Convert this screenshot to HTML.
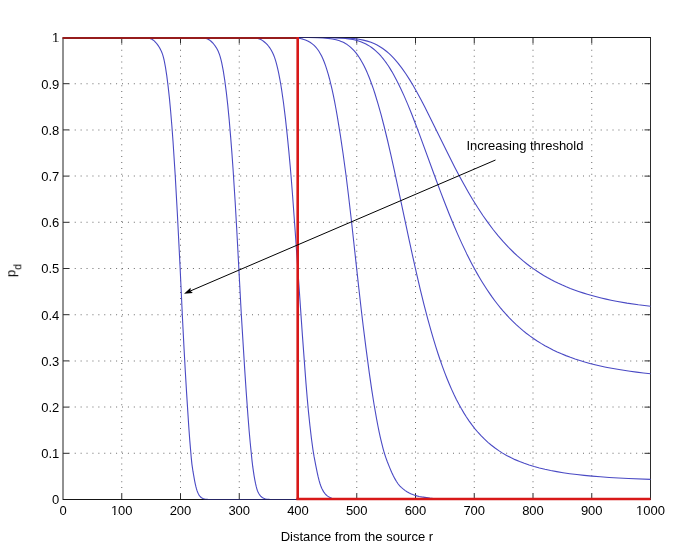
<!DOCTYPE html>
<html><head><meta charset="utf-8"><style>html,body{margin:0;padding:0;background:#fff;overflow:hidden;}svg{display:block;}</style></head>
<body><svg width="685" height="559" viewBox="0 0 685 559">
<defs><clipPath id="clip"><rect x="63.0" y="37.5" width="588.0" height="462.5"/></clipPath></defs>
<rect width="685" height="559" fill="#fff"/>
<path d="M121.25 43.81h1v1h-1zM121.25 49.72h1v1h-1zM121.25 55.63h1v1h-1zM121.25 61.54h1v1h-1zM121.25 67.45h1v1h-1zM121.25 73.36h1v1h-1zM121.25 79.27h1v1h-1zM121.25 85.18h1v1h-1zM121.25 91.09h1v1h-1zM121.25 97.00h1v1h-1zM121.25 102.91h1v1h-1zM121.25 108.82h1v1h-1zM121.25 114.73h1v1h-1zM121.25 120.64h1v1h-1zM121.25 126.55h1v1h-1zM121.25 132.46h1v1h-1zM121.25 138.37h1v1h-1zM121.25 144.28h1v1h-1zM121.25 150.19h1v1h-1zM121.25 156.10h1v1h-1zM121.25 162.01h1v1h-1zM121.25 167.92h1v1h-1zM121.25 173.83h1v1h-1zM121.25 179.74h1v1h-1zM121.25 185.65h1v1h-1zM121.25 191.56h1v1h-1zM121.25 197.47h1v1h-1zM121.25 203.38h1v1h-1zM121.25 209.29h1v1h-1zM121.25 215.20h1v1h-1zM121.25 221.11h1v1h-1zM121.25 227.02h1v1h-1zM121.25 232.93h1v1h-1zM121.25 238.84h1v1h-1zM121.25 244.75h1v1h-1zM121.25 250.66h1v1h-1zM121.25 256.57h1v1h-1zM121.25 262.48h1v1h-1zM121.25 268.39h1v1h-1zM121.25 274.30h1v1h-1zM121.25 280.21h1v1h-1zM121.25 286.12h1v1h-1zM121.25 292.03h1v1h-1zM121.25 297.94h1v1h-1zM121.25 303.85h1v1h-1zM121.25 309.76h1v1h-1zM121.25 315.67h1v1h-1zM121.25 321.58h1v1h-1zM121.25 327.49h1v1h-1zM121.25 333.40h1v1h-1zM121.25 339.31h1v1h-1zM121.25 345.22h1v1h-1zM121.25 351.13h1v1h-1zM121.25 357.04h1v1h-1zM121.25 362.95h1v1h-1zM121.25 368.86h1v1h-1zM121.25 374.77h1v1h-1zM121.25 380.68h1v1h-1zM121.25 386.59h1v1h-1zM121.25 392.50h1v1h-1zM121.25 398.41h1v1h-1zM121.25 404.32h1v1h-1zM121.25 410.23h1v1h-1zM121.25 416.14h1v1h-1zM121.25 422.05h1v1h-1zM121.25 427.96h1v1h-1zM121.25 433.87h1v1h-1zM121.25 439.78h1v1h-1zM121.25 445.69h1v1h-1zM121.25 451.60h1v1h-1zM121.25 457.51h1v1h-1zM121.25 463.42h1v1h-1zM121.25 469.33h1v1h-1zM121.25 475.24h1v1h-1zM121.25 481.15h1v1h-1zM121.25 487.06h1v1h-1zM121.25 492.97h1v1h-1zM180.00 43.81h1v1h-1zM180.00 49.72h1v1h-1zM180.00 55.63h1v1h-1zM180.00 61.54h1v1h-1zM180.00 67.45h1v1h-1zM180.00 73.36h1v1h-1zM180.00 79.27h1v1h-1zM180.00 85.18h1v1h-1zM180.00 91.09h1v1h-1zM180.00 97.00h1v1h-1zM180.00 102.91h1v1h-1zM180.00 108.82h1v1h-1zM180.00 114.73h1v1h-1zM180.00 120.64h1v1h-1zM180.00 126.55h1v1h-1zM180.00 132.46h1v1h-1zM180.00 138.37h1v1h-1zM180.00 144.28h1v1h-1zM180.00 150.19h1v1h-1zM180.00 156.10h1v1h-1zM180.00 162.01h1v1h-1zM180.00 167.92h1v1h-1zM180.00 173.83h1v1h-1zM180.00 179.74h1v1h-1zM180.00 185.65h1v1h-1zM180.00 191.56h1v1h-1zM180.00 197.47h1v1h-1zM180.00 203.38h1v1h-1zM180.00 209.29h1v1h-1zM180.00 215.20h1v1h-1zM180.00 221.11h1v1h-1zM180.00 227.02h1v1h-1zM180.00 232.93h1v1h-1zM180.00 238.84h1v1h-1zM180.00 244.75h1v1h-1zM180.00 250.66h1v1h-1zM180.00 256.57h1v1h-1zM180.00 262.48h1v1h-1zM180.00 268.39h1v1h-1zM180.00 274.30h1v1h-1zM180.00 280.21h1v1h-1zM180.00 286.12h1v1h-1zM180.00 292.03h1v1h-1zM180.00 297.94h1v1h-1zM180.00 303.85h1v1h-1zM180.00 309.76h1v1h-1zM180.00 315.67h1v1h-1zM180.00 321.58h1v1h-1zM180.00 327.49h1v1h-1zM180.00 333.40h1v1h-1zM180.00 339.31h1v1h-1zM180.00 345.22h1v1h-1zM180.00 351.13h1v1h-1zM180.00 357.04h1v1h-1zM180.00 362.95h1v1h-1zM180.00 368.86h1v1h-1zM180.00 374.77h1v1h-1zM180.00 380.68h1v1h-1zM180.00 386.59h1v1h-1zM180.00 392.50h1v1h-1zM180.00 398.41h1v1h-1zM180.00 404.32h1v1h-1zM180.00 410.23h1v1h-1zM180.00 416.14h1v1h-1zM180.00 422.05h1v1h-1zM180.00 427.96h1v1h-1zM180.00 433.87h1v1h-1zM180.00 439.78h1v1h-1zM180.00 445.69h1v1h-1zM180.00 451.60h1v1h-1zM180.00 457.51h1v1h-1zM180.00 463.42h1v1h-1zM180.00 469.33h1v1h-1zM180.00 475.24h1v1h-1zM180.00 481.15h1v1h-1zM180.00 487.06h1v1h-1zM180.00 492.97h1v1h-1zM238.75 43.81h1v1h-1zM238.75 49.72h1v1h-1zM238.75 55.63h1v1h-1zM238.75 61.54h1v1h-1zM238.75 67.45h1v1h-1zM238.75 73.36h1v1h-1zM238.75 79.27h1v1h-1zM238.75 85.18h1v1h-1zM238.75 91.09h1v1h-1zM238.75 97.00h1v1h-1zM238.75 102.91h1v1h-1zM238.75 108.82h1v1h-1zM238.75 114.73h1v1h-1zM238.75 120.64h1v1h-1zM238.75 126.55h1v1h-1zM238.75 132.46h1v1h-1zM238.75 138.37h1v1h-1zM238.75 144.28h1v1h-1zM238.75 150.19h1v1h-1zM238.75 156.10h1v1h-1zM238.75 162.01h1v1h-1zM238.75 167.92h1v1h-1zM238.75 173.83h1v1h-1zM238.75 179.74h1v1h-1zM238.75 185.65h1v1h-1zM238.75 191.56h1v1h-1zM238.75 197.47h1v1h-1zM238.75 203.38h1v1h-1zM238.75 209.29h1v1h-1zM238.75 215.20h1v1h-1zM238.75 221.11h1v1h-1zM238.75 227.02h1v1h-1zM238.75 232.93h1v1h-1zM238.75 238.84h1v1h-1zM238.75 244.75h1v1h-1zM238.75 250.66h1v1h-1zM238.75 256.57h1v1h-1zM238.75 262.48h1v1h-1zM238.75 268.39h1v1h-1zM238.75 274.30h1v1h-1zM238.75 280.21h1v1h-1zM238.75 286.12h1v1h-1zM238.75 292.03h1v1h-1zM238.75 297.94h1v1h-1zM238.75 303.85h1v1h-1zM238.75 309.76h1v1h-1zM238.75 315.67h1v1h-1zM238.75 321.58h1v1h-1zM238.75 327.49h1v1h-1zM238.75 333.40h1v1h-1zM238.75 339.31h1v1h-1zM238.75 345.22h1v1h-1zM238.75 351.13h1v1h-1zM238.75 357.04h1v1h-1zM238.75 362.95h1v1h-1zM238.75 368.86h1v1h-1zM238.75 374.77h1v1h-1zM238.75 380.68h1v1h-1zM238.75 386.59h1v1h-1zM238.75 392.50h1v1h-1zM238.75 398.41h1v1h-1zM238.75 404.32h1v1h-1zM238.75 410.23h1v1h-1zM238.75 416.14h1v1h-1zM238.75 422.05h1v1h-1zM238.75 427.96h1v1h-1zM238.75 433.87h1v1h-1zM238.75 439.78h1v1h-1zM238.75 445.69h1v1h-1zM238.75 451.60h1v1h-1zM238.75 457.51h1v1h-1zM238.75 463.42h1v1h-1zM238.75 469.33h1v1h-1zM238.75 475.24h1v1h-1zM238.75 481.15h1v1h-1zM238.75 487.06h1v1h-1zM238.75 492.97h1v1h-1zM297.50 43.81h1v1h-1zM297.50 49.72h1v1h-1zM297.50 55.63h1v1h-1zM297.50 61.54h1v1h-1zM297.50 67.45h1v1h-1zM297.50 73.36h1v1h-1zM297.50 79.27h1v1h-1zM297.50 85.18h1v1h-1zM297.50 91.09h1v1h-1zM297.50 97.00h1v1h-1zM297.50 102.91h1v1h-1zM297.50 108.82h1v1h-1zM297.50 114.73h1v1h-1zM297.50 120.64h1v1h-1zM297.50 126.55h1v1h-1zM297.50 132.46h1v1h-1zM297.50 138.37h1v1h-1zM297.50 144.28h1v1h-1zM297.50 150.19h1v1h-1zM297.50 156.10h1v1h-1zM297.50 162.01h1v1h-1zM297.50 167.92h1v1h-1zM297.50 173.83h1v1h-1zM297.50 179.74h1v1h-1zM297.50 185.65h1v1h-1zM297.50 191.56h1v1h-1zM297.50 197.47h1v1h-1zM297.50 203.38h1v1h-1zM297.50 209.29h1v1h-1zM297.50 215.20h1v1h-1zM297.50 221.11h1v1h-1zM297.50 227.02h1v1h-1zM297.50 232.93h1v1h-1zM297.50 238.84h1v1h-1zM297.50 244.75h1v1h-1zM297.50 250.66h1v1h-1zM297.50 256.57h1v1h-1zM297.50 262.48h1v1h-1zM297.50 268.39h1v1h-1zM297.50 274.30h1v1h-1zM297.50 280.21h1v1h-1zM297.50 286.12h1v1h-1zM297.50 292.03h1v1h-1zM297.50 297.94h1v1h-1zM297.50 303.85h1v1h-1zM297.50 309.76h1v1h-1zM297.50 315.67h1v1h-1zM297.50 321.58h1v1h-1zM297.50 327.49h1v1h-1zM297.50 333.40h1v1h-1zM297.50 339.31h1v1h-1zM297.50 345.22h1v1h-1zM297.50 351.13h1v1h-1zM297.50 357.04h1v1h-1zM297.50 362.95h1v1h-1zM297.50 368.86h1v1h-1zM297.50 374.77h1v1h-1zM297.50 380.68h1v1h-1zM297.50 386.59h1v1h-1zM297.50 392.50h1v1h-1zM297.50 398.41h1v1h-1zM297.50 404.32h1v1h-1zM297.50 410.23h1v1h-1zM297.50 416.14h1v1h-1zM297.50 422.05h1v1h-1zM297.50 427.96h1v1h-1zM297.50 433.87h1v1h-1zM297.50 439.78h1v1h-1zM297.50 445.69h1v1h-1zM297.50 451.60h1v1h-1zM297.50 457.51h1v1h-1zM297.50 463.42h1v1h-1zM297.50 469.33h1v1h-1zM297.50 475.24h1v1h-1zM297.50 481.15h1v1h-1zM297.50 487.06h1v1h-1zM297.50 492.97h1v1h-1zM356.25 43.81h1v1h-1zM356.25 49.72h1v1h-1zM356.25 55.63h1v1h-1zM356.25 61.54h1v1h-1zM356.25 67.45h1v1h-1zM356.25 73.36h1v1h-1zM356.25 79.27h1v1h-1zM356.25 85.18h1v1h-1zM356.25 91.09h1v1h-1zM356.25 97.00h1v1h-1zM356.25 102.91h1v1h-1zM356.25 108.82h1v1h-1zM356.25 114.73h1v1h-1zM356.25 120.64h1v1h-1zM356.25 126.55h1v1h-1zM356.25 132.46h1v1h-1zM356.25 138.37h1v1h-1zM356.25 144.28h1v1h-1zM356.25 150.19h1v1h-1zM356.25 156.10h1v1h-1zM356.25 162.01h1v1h-1zM356.25 167.92h1v1h-1zM356.25 173.83h1v1h-1zM356.25 179.74h1v1h-1zM356.25 185.65h1v1h-1zM356.25 191.56h1v1h-1zM356.25 197.47h1v1h-1zM356.25 203.38h1v1h-1zM356.25 209.29h1v1h-1zM356.25 215.20h1v1h-1zM356.25 221.11h1v1h-1zM356.25 227.02h1v1h-1zM356.25 232.93h1v1h-1zM356.25 238.84h1v1h-1zM356.25 244.75h1v1h-1zM356.25 250.66h1v1h-1zM356.25 256.57h1v1h-1zM356.25 262.48h1v1h-1zM356.25 268.39h1v1h-1zM356.25 274.30h1v1h-1zM356.25 280.21h1v1h-1zM356.25 286.12h1v1h-1zM356.25 292.03h1v1h-1zM356.25 297.94h1v1h-1zM356.25 303.85h1v1h-1zM356.25 309.76h1v1h-1zM356.25 315.67h1v1h-1zM356.25 321.58h1v1h-1zM356.25 327.49h1v1h-1zM356.25 333.40h1v1h-1zM356.25 339.31h1v1h-1zM356.25 345.22h1v1h-1zM356.25 351.13h1v1h-1zM356.25 357.04h1v1h-1zM356.25 362.95h1v1h-1zM356.25 368.86h1v1h-1zM356.25 374.77h1v1h-1zM356.25 380.68h1v1h-1zM356.25 386.59h1v1h-1zM356.25 392.50h1v1h-1zM356.25 398.41h1v1h-1zM356.25 404.32h1v1h-1zM356.25 410.23h1v1h-1zM356.25 416.14h1v1h-1zM356.25 422.05h1v1h-1zM356.25 427.96h1v1h-1zM356.25 433.87h1v1h-1zM356.25 439.78h1v1h-1zM356.25 445.69h1v1h-1zM356.25 451.60h1v1h-1zM356.25 457.51h1v1h-1zM356.25 463.42h1v1h-1zM356.25 469.33h1v1h-1zM356.25 475.24h1v1h-1zM356.25 481.15h1v1h-1zM356.25 487.06h1v1h-1zM356.25 492.97h1v1h-1zM415.00 43.81h1v1h-1zM415.00 49.72h1v1h-1zM415.00 55.63h1v1h-1zM415.00 61.54h1v1h-1zM415.00 67.45h1v1h-1zM415.00 73.36h1v1h-1zM415.00 79.27h1v1h-1zM415.00 85.18h1v1h-1zM415.00 91.09h1v1h-1zM415.00 97.00h1v1h-1zM415.00 102.91h1v1h-1zM415.00 108.82h1v1h-1zM415.00 114.73h1v1h-1zM415.00 120.64h1v1h-1zM415.00 126.55h1v1h-1zM415.00 132.46h1v1h-1zM415.00 138.37h1v1h-1zM415.00 144.28h1v1h-1zM415.00 150.19h1v1h-1zM415.00 156.10h1v1h-1zM415.00 162.01h1v1h-1zM415.00 167.92h1v1h-1zM415.00 173.83h1v1h-1zM415.00 179.74h1v1h-1zM415.00 185.65h1v1h-1zM415.00 191.56h1v1h-1zM415.00 197.47h1v1h-1zM415.00 203.38h1v1h-1zM415.00 209.29h1v1h-1zM415.00 215.20h1v1h-1zM415.00 221.11h1v1h-1zM415.00 227.02h1v1h-1zM415.00 232.93h1v1h-1zM415.00 238.84h1v1h-1zM415.00 244.75h1v1h-1zM415.00 250.66h1v1h-1zM415.00 256.57h1v1h-1zM415.00 262.48h1v1h-1zM415.00 268.39h1v1h-1zM415.00 274.30h1v1h-1zM415.00 280.21h1v1h-1zM415.00 286.12h1v1h-1zM415.00 292.03h1v1h-1zM415.00 297.94h1v1h-1zM415.00 303.85h1v1h-1zM415.00 309.76h1v1h-1zM415.00 315.67h1v1h-1zM415.00 321.58h1v1h-1zM415.00 327.49h1v1h-1zM415.00 333.40h1v1h-1zM415.00 339.31h1v1h-1zM415.00 345.22h1v1h-1zM415.00 351.13h1v1h-1zM415.00 357.04h1v1h-1zM415.00 362.95h1v1h-1zM415.00 368.86h1v1h-1zM415.00 374.77h1v1h-1zM415.00 380.68h1v1h-1zM415.00 386.59h1v1h-1zM415.00 392.50h1v1h-1zM415.00 398.41h1v1h-1zM415.00 404.32h1v1h-1zM415.00 410.23h1v1h-1zM415.00 416.14h1v1h-1zM415.00 422.05h1v1h-1zM415.00 427.96h1v1h-1zM415.00 433.87h1v1h-1zM415.00 439.78h1v1h-1zM415.00 445.69h1v1h-1zM415.00 451.60h1v1h-1zM415.00 457.51h1v1h-1zM415.00 463.42h1v1h-1zM415.00 469.33h1v1h-1zM415.00 475.24h1v1h-1zM415.00 481.15h1v1h-1zM415.00 487.06h1v1h-1zM415.00 492.97h1v1h-1zM473.75 43.81h1v1h-1zM473.75 49.72h1v1h-1zM473.75 55.63h1v1h-1zM473.75 61.54h1v1h-1zM473.75 67.45h1v1h-1zM473.75 73.36h1v1h-1zM473.75 79.27h1v1h-1zM473.75 85.18h1v1h-1zM473.75 91.09h1v1h-1zM473.75 97.00h1v1h-1zM473.75 102.91h1v1h-1zM473.75 108.82h1v1h-1zM473.75 114.73h1v1h-1zM473.75 120.64h1v1h-1zM473.75 126.55h1v1h-1zM473.75 132.46h1v1h-1zM473.75 138.37h1v1h-1zM473.75 144.28h1v1h-1zM473.75 150.19h1v1h-1zM473.75 156.10h1v1h-1zM473.75 162.01h1v1h-1zM473.75 167.92h1v1h-1zM473.75 173.83h1v1h-1zM473.75 179.74h1v1h-1zM473.75 185.65h1v1h-1zM473.75 191.56h1v1h-1zM473.75 197.47h1v1h-1zM473.75 203.38h1v1h-1zM473.75 209.29h1v1h-1zM473.75 215.20h1v1h-1zM473.75 221.11h1v1h-1zM473.75 227.02h1v1h-1zM473.75 232.93h1v1h-1zM473.75 238.84h1v1h-1zM473.75 244.75h1v1h-1zM473.75 250.66h1v1h-1zM473.75 256.57h1v1h-1zM473.75 262.48h1v1h-1zM473.75 268.39h1v1h-1zM473.75 274.30h1v1h-1zM473.75 280.21h1v1h-1zM473.75 286.12h1v1h-1zM473.75 292.03h1v1h-1zM473.75 297.94h1v1h-1zM473.75 303.85h1v1h-1zM473.75 309.76h1v1h-1zM473.75 315.67h1v1h-1zM473.75 321.58h1v1h-1zM473.75 327.49h1v1h-1zM473.75 333.40h1v1h-1zM473.75 339.31h1v1h-1zM473.75 345.22h1v1h-1zM473.75 351.13h1v1h-1zM473.75 357.04h1v1h-1zM473.75 362.95h1v1h-1zM473.75 368.86h1v1h-1zM473.75 374.77h1v1h-1zM473.75 380.68h1v1h-1zM473.75 386.59h1v1h-1zM473.75 392.50h1v1h-1zM473.75 398.41h1v1h-1zM473.75 404.32h1v1h-1zM473.75 410.23h1v1h-1zM473.75 416.14h1v1h-1zM473.75 422.05h1v1h-1zM473.75 427.96h1v1h-1zM473.75 433.87h1v1h-1zM473.75 439.78h1v1h-1zM473.75 445.69h1v1h-1zM473.75 451.60h1v1h-1zM473.75 457.51h1v1h-1zM473.75 463.42h1v1h-1zM473.75 469.33h1v1h-1zM473.75 475.24h1v1h-1zM473.75 481.15h1v1h-1zM473.75 487.06h1v1h-1zM473.75 492.97h1v1h-1zM532.50 43.81h1v1h-1zM532.50 49.72h1v1h-1zM532.50 55.63h1v1h-1zM532.50 61.54h1v1h-1zM532.50 67.45h1v1h-1zM532.50 73.36h1v1h-1zM532.50 79.27h1v1h-1zM532.50 85.18h1v1h-1zM532.50 91.09h1v1h-1zM532.50 97.00h1v1h-1zM532.50 102.91h1v1h-1zM532.50 108.82h1v1h-1zM532.50 114.73h1v1h-1zM532.50 120.64h1v1h-1zM532.50 126.55h1v1h-1zM532.50 132.46h1v1h-1zM532.50 138.37h1v1h-1zM532.50 144.28h1v1h-1zM532.50 150.19h1v1h-1zM532.50 156.10h1v1h-1zM532.50 162.01h1v1h-1zM532.50 167.92h1v1h-1zM532.50 173.83h1v1h-1zM532.50 179.74h1v1h-1zM532.50 185.65h1v1h-1zM532.50 191.56h1v1h-1zM532.50 197.47h1v1h-1zM532.50 203.38h1v1h-1zM532.50 209.29h1v1h-1zM532.50 215.20h1v1h-1zM532.50 221.11h1v1h-1zM532.50 227.02h1v1h-1zM532.50 232.93h1v1h-1zM532.50 238.84h1v1h-1zM532.50 244.75h1v1h-1zM532.50 250.66h1v1h-1zM532.50 256.57h1v1h-1zM532.50 262.48h1v1h-1zM532.50 268.39h1v1h-1zM532.50 274.30h1v1h-1zM532.50 280.21h1v1h-1zM532.50 286.12h1v1h-1zM532.50 292.03h1v1h-1zM532.50 297.94h1v1h-1zM532.50 303.85h1v1h-1zM532.50 309.76h1v1h-1zM532.50 315.67h1v1h-1zM532.50 321.58h1v1h-1zM532.50 327.49h1v1h-1zM532.50 333.40h1v1h-1zM532.50 339.31h1v1h-1zM532.50 345.22h1v1h-1zM532.50 351.13h1v1h-1zM532.50 357.04h1v1h-1zM532.50 362.95h1v1h-1zM532.50 368.86h1v1h-1zM532.50 374.77h1v1h-1zM532.50 380.68h1v1h-1zM532.50 386.59h1v1h-1zM532.50 392.50h1v1h-1zM532.50 398.41h1v1h-1zM532.50 404.32h1v1h-1zM532.50 410.23h1v1h-1zM532.50 416.14h1v1h-1zM532.50 422.05h1v1h-1zM532.50 427.96h1v1h-1zM532.50 433.87h1v1h-1zM532.50 439.78h1v1h-1zM532.50 445.69h1v1h-1zM532.50 451.60h1v1h-1zM532.50 457.51h1v1h-1zM532.50 463.42h1v1h-1zM532.50 469.33h1v1h-1zM532.50 475.24h1v1h-1zM532.50 481.15h1v1h-1zM532.50 487.06h1v1h-1zM532.50 492.97h1v1h-1zM591.25 43.81h1v1h-1zM591.25 49.72h1v1h-1zM591.25 55.63h1v1h-1zM591.25 61.54h1v1h-1zM591.25 67.45h1v1h-1zM591.25 73.36h1v1h-1zM591.25 79.27h1v1h-1zM591.25 85.18h1v1h-1zM591.25 91.09h1v1h-1zM591.25 97.00h1v1h-1zM591.25 102.91h1v1h-1zM591.25 108.82h1v1h-1zM591.25 114.73h1v1h-1zM591.25 120.64h1v1h-1zM591.25 126.55h1v1h-1zM591.25 132.46h1v1h-1zM591.25 138.37h1v1h-1zM591.25 144.28h1v1h-1zM591.25 150.19h1v1h-1zM591.25 156.10h1v1h-1zM591.25 162.01h1v1h-1zM591.25 167.92h1v1h-1zM591.25 173.83h1v1h-1zM591.25 179.74h1v1h-1zM591.25 185.65h1v1h-1zM591.25 191.56h1v1h-1zM591.25 197.47h1v1h-1zM591.25 203.38h1v1h-1zM591.25 209.29h1v1h-1zM591.25 215.20h1v1h-1zM591.25 221.11h1v1h-1zM591.25 227.02h1v1h-1zM591.25 232.93h1v1h-1zM591.25 238.84h1v1h-1zM591.25 244.75h1v1h-1zM591.25 250.66h1v1h-1zM591.25 256.57h1v1h-1zM591.25 262.48h1v1h-1zM591.25 268.39h1v1h-1zM591.25 274.30h1v1h-1zM591.25 280.21h1v1h-1zM591.25 286.12h1v1h-1zM591.25 292.03h1v1h-1zM591.25 297.94h1v1h-1zM591.25 303.85h1v1h-1zM591.25 309.76h1v1h-1zM591.25 315.67h1v1h-1zM591.25 321.58h1v1h-1zM591.25 327.49h1v1h-1zM591.25 333.40h1v1h-1zM591.25 339.31h1v1h-1zM591.25 345.22h1v1h-1zM591.25 351.13h1v1h-1zM591.25 357.04h1v1h-1zM591.25 362.95h1v1h-1zM591.25 368.86h1v1h-1zM591.25 374.77h1v1h-1zM591.25 380.68h1v1h-1zM591.25 386.59h1v1h-1zM591.25 392.50h1v1h-1zM591.25 398.41h1v1h-1zM591.25 404.32h1v1h-1zM591.25 410.23h1v1h-1zM591.25 416.14h1v1h-1zM591.25 422.05h1v1h-1zM591.25 427.96h1v1h-1zM591.25 433.87h1v1h-1zM591.25 439.78h1v1h-1zM591.25 445.69h1v1h-1zM591.25 451.60h1v1h-1zM591.25 457.51h1v1h-1zM591.25 463.42h1v1h-1zM591.25 469.33h1v1h-1zM591.25 475.24h1v1h-1zM591.25 481.15h1v1h-1zM591.25 487.06h1v1h-1zM591.25 492.97h1v1h-1zM68.81 452.80h1v1h-1zM74.72 452.80h1v1h-1zM80.63 452.80h1v1h-1zM86.54 452.80h1v1h-1zM92.45 452.80h1v1h-1zM98.36 452.80h1v1h-1zM104.27 452.80h1v1h-1zM110.18 452.80h1v1h-1zM116.09 452.80h1v1h-1zM122.00 452.80h1v1h-1zM127.91 452.80h1v1h-1zM133.82 452.80h1v1h-1zM139.73 452.80h1v1h-1zM145.64 452.80h1v1h-1zM151.55 452.80h1v1h-1zM157.46 452.80h1v1h-1zM163.37 452.80h1v1h-1zM169.28 452.80h1v1h-1zM175.19 452.80h1v1h-1zM181.10 452.80h1v1h-1zM187.01 452.80h1v1h-1zM192.92 452.80h1v1h-1zM198.83 452.80h1v1h-1zM204.74 452.80h1v1h-1zM210.65 452.80h1v1h-1zM216.56 452.80h1v1h-1zM222.47 452.80h1v1h-1zM228.38 452.80h1v1h-1zM234.29 452.80h1v1h-1zM240.20 452.80h1v1h-1zM246.11 452.80h1v1h-1zM252.02 452.80h1v1h-1zM257.93 452.80h1v1h-1zM263.84 452.80h1v1h-1zM269.75 452.80h1v1h-1zM275.66 452.80h1v1h-1zM281.57 452.80h1v1h-1zM287.48 452.80h1v1h-1zM293.39 452.80h1v1h-1zM299.30 452.80h1v1h-1zM305.21 452.80h1v1h-1zM311.12 452.80h1v1h-1zM317.03 452.80h1v1h-1zM322.94 452.80h1v1h-1zM328.85 452.80h1v1h-1zM334.76 452.80h1v1h-1zM340.67 452.80h1v1h-1zM346.58 452.80h1v1h-1zM352.49 452.80h1v1h-1zM358.40 452.80h1v1h-1zM364.31 452.80h1v1h-1zM370.22 452.80h1v1h-1zM376.13 452.80h1v1h-1zM382.04 452.80h1v1h-1zM387.95 452.80h1v1h-1zM393.86 452.80h1v1h-1zM399.77 452.80h1v1h-1zM405.68 452.80h1v1h-1zM411.59 452.80h1v1h-1zM417.50 452.80h1v1h-1zM423.41 452.80h1v1h-1zM429.32 452.80h1v1h-1zM435.23 452.80h1v1h-1zM441.14 452.80h1v1h-1zM447.05 452.80h1v1h-1zM452.96 452.80h1v1h-1zM458.87 452.80h1v1h-1zM464.78 452.80h1v1h-1zM470.69 452.80h1v1h-1zM476.60 452.80h1v1h-1zM482.51 452.80h1v1h-1zM488.42 452.80h1v1h-1zM494.33 452.80h1v1h-1zM500.24 452.80h1v1h-1zM506.15 452.80h1v1h-1zM512.06 452.80h1v1h-1zM517.97 452.80h1v1h-1zM523.88 452.80h1v1h-1zM529.79 452.80h1v1h-1zM535.70 452.80h1v1h-1zM541.61 452.80h1v1h-1zM547.52 452.80h1v1h-1zM553.43 452.80h1v1h-1zM559.34 452.80h1v1h-1zM565.25 452.80h1v1h-1zM571.16 452.80h1v1h-1zM577.07 452.80h1v1h-1zM582.98 452.80h1v1h-1zM588.89 452.80h1v1h-1zM594.80 452.80h1v1h-1zM600.71 452.80h1v1h-1zM606.62 452.80h1v1h-1zM612.53 452.80h1v1h-1zM618.44 452.80h1v1h-1zM624.35 452.80h1v1h-1zM630.26 452.80h1v1h-1zM636.17 452.80h1v1h-1zM642.08 452.80h1v1h-1zM647.99 452.80h1v1h-1zM68.81 406.60h1v1h-1zM74.72 406.60h1v1h-1zM80.63 406.60h1v1h-1zM86.54 406.60h1v1h-1zM92.45 406.60h1v1h-1zM98.36 406.60h1v1h-1zM104.27 406.60h1v1h-1zM110.18 406.60h1v1h-1zM116.09 406.60h1v1h-1zM122.00 406.60h1v1h-1zM127.91 406.60h1v1h-1zM133.82 406.60h1v1h-1zM139.73 406.60h1v1h-1zM145.64 406.60h1v1h-1zM151.55 406.60h1v1h-1zM157.46 406.60h1v1h-1zM163.37 406.60h1v1h-1zM169.28 406.60h1v1h-1zM175.19 406.60h1v1h-1zM181.10 406.60h1v1h-1zM187.01 406.60h1v1h-1zM192.92 406.60h1v1h-1zM198.83 406.60h1v1h-1zM204.74 406.60h1v1h-1zM210.65 406.60h1v1h-1zM216.56 406.60h1v1h-1zM222.47 406.60h1v1h-1zM228.38 406.60h1v1h-1zM234.29 406.60h1v1h-1zM240.20 406.60h1v1h-1zM246.11 406.60h1v1h-1zM252.02 406.60h1v1h-1zM257.93 406.60h1v1h-1zM263.84 406.60h1v1h-1zM269.75 406.60h1v1h-1zM275.66 406.60h1v1h-1zM281.57 406.60h1v1h-1zM287.48 406.60h1v1h-1zM293.39 406.60h1v1h-1zM299.30 406.60h1v1h-1zM305.21 406.60h1v1h-1zM311.12 406.60h1v1h-1zM317.03 406.60h1v1h-1zM322.94 406.60h1v1h-1zM328.85 406.60h1v1h-1zM334.76 406.60h1v1h-1zM340.67 406.60h1v1h-1zM346.58 406.60h1v1h-1zM352.49 406.60h1v1h-1zM358.40 406.60h1v1h-1zM364.31 406.60h1v1h-1zM370.22 406.60h1v1h-1zM376.13 406.60h1v1h-1zM382.04 406.60h1v1h-1zM387.95 406.60h1v1h-1zM393.86 406.60h1v1h-1zM399.77 406.60h1v1h-1zM405.68 406.60h1v1h-1zM411.59 406.60h1v1h-1zM417.50 406.60h1v1h-1zM423.41 406.60h1v1h-1zM429.32 406.60h1v1h-1zM435.23 406.60h1v1h-1zM441.14 406.60h1v1h-1zM447.05 406.60h1v1h-1zM452.96 406.60h1v1h-1zM458.87 406.60h1v1h-1zM464.78 406.60h1v1h-1zM470.69 406.60h1v1h-1zM476.60 406.60h1v1h-1zM482.51 406.60h1v1h-1zM488.42 406.60h1v1h-1zM494.33 406.60h1v1h-1zM500.24 406.60h1v1h-1zM506.15 406.60h1v1h-1zM512.06 406.60h1v1h-1zM517.97 406.60h1v1h-1zM523.88 406.60h1v1h-1zM529.79 406.60h1v1h-1zM535.70 406.60h1v1h-1zM541.61 406.60h1v1h-1zM547.52 406.60h1v1h-1zM553.43 406.60h1v1h-1zM559.34 406.60h1v1h-1zM565.25 406.60h1v1h-1zM571.16 406.60h1v1h-1zM577.07 406.60h1v1h-1zM582.98 406.60h1v1h-1zM588.89 406.60h1v1h-1zM594.80 406.60h1v1h-1zM600.71 406.60h1v1h-1zM606.62 406.60h1v1h-1zM612.53 406.60h1v1h-1zM618.44 406.60h1v1h-1zM624.35 406.60h1v1h-1zM630.26 406.60h1v1h-1zM636.17 406.60h1v1h-1zM642.08 406.60h1v1h-1zM647.99 406.60h1v1h-1zM68.81 360.40h1v1h-1zM74.72 360.40h1v1h-1zM80.63 360.40h1v1h-1zM86.54 360.40h1v1h-1zM92.45 360.40h1v1h-1zM98.36 360.40h1v1h-1zM104.27 360.40h1v1h-1zM110.18 360.40h1v1h-1zM116.09 360.40h1v1h-1zM122.00 360.40h1v1h-1zM127.91 360.40h1v1h-1zM133.82 360.40h1v1h-1zM139.73 360.40h1v1h-1zM145.64 360.40h1v1h-1zM151.55 360.40h1v1h-1zM157.46 360.40h1v1h-1zM163.37 360.40h1v1h-1zM169.28 360.40h1v1h-1zM175.19 360.40h1v1h-1zM181.10 360.40h1v1h-1zM187.01 360.40h1v1h-1zM192.92 360.40h1v1h-1zM198.83 360.40h1v1h-1zM204.74 360.40h1v1h-1zM210.65 360.40h1v1h-1zM216.56 360.40h1v1h-1zM222.47 360.40h1v1h-1zM228.38 360.40h1v1h-1zM234.29 360.40h1v1h-1zM240.20 360.40h1v1h-1zM246.11 360.40h1v1h-1zM252.02 360.40h1v1h-1zM257.93 360.40h1v1h-1zM263.84 360.40h1v1h-1zM269.75 360.40h1v1h-1zM275.66 360.40h1v1h-1zM281.57 360.40h1v1h-1zM287.48 360.40h1v1h-1zM293.39 360.40h1v1h-1zM299.30 360.40h1v1h-1zM305.21 360.40h1v1h-1zM311.12 360.40h1v1h-1zM317.03 360.40h1v1h-1zM322.94 360.40h1v1h-1zM328.85 360.40h1v1h-1zM334.76 360.40h1v1h-1zM340.67 360.40h1v1h-1zM346.58 360.40h1v1h-1zM352.49 360.40h1v1h-1zM358.40 360.40h1v1h-1zM364.31 360.40h1v1h-1zM370.22 360.40h1v1h-1zM376.13 360.40h1v1h-1zM382.04 360.40h1v1h-1zM387.95 360.40h1v1h-1zM393.86 360.40h1v1h-1zM399.77 360.40h1v1h-1zM405.68 360.40h1v1h-1zM411.59 360.40h1v1h-1zM417.50 360.40h1v1h-1zM423.41 360.40h1v1h-1zM429.32 360.40h1v1h-1zM435.23 360.40h1v1h-1zM441.14 360.40h1v1h-1zM447.05 360.40h1v1h-1zM452.96 360.40h1v1h-1zM458.87 360.40h1v1h-1zM464.78 360.40h1v1h-1zM470.69 360.40h1v1h-1zM476.60 360.40h1v1h-1zM482.51 360.40h1v1h-1zM488.42 360.40h1v1h-1zM494.33 360.40h1v1h-1zM500.24 360.40h1v1h-1zM506.15 360.40h1v1h-1zM512.06 360.40h1v1h-1zM517.97 360.40h1v1h-1zM523.88 360.40h1v1h-1zM529.79 360.40h1v1h-1zM535.70 360.40h1v1h-1zM541.61 360.40h1v1h-1zM547.52 360.40h1v1h-1zM553.43 360.40h1v1h-1zM559.34 360.40h1v1h-1zM565.25 360.40h1v1h-1zM571.16 360.40h1v1h-1zM577.07 360.40h1v1h-1zM582.98 360.40h1v1h-1zM588.89 360.40h1v1h-1zM594.80 360.40h1v1h-1zM600.71 360.40h1v1h-1zM606.62 360.40h1v1h-1zM612.53 360.40h1v1h-1zM618.44 360.40h1v1h-1zM624.35 360.40h1v1h-1zM630.26 360.40h1v1h-1zM636.17 360.40h1v1h-1zM642.08 360.40h1v1h-1zM647.99 360.40h1v1h-1zM68.81 314.20h1v1h-1zM74.72 314.20h1v1h-1zM80.63 314.20h1v1h-1zM86.54 314.20h1v1h-1zM92.45 314.20h1v1h-1zM98.36 314.20h1v1h-1zM104.27 314.20h1v1h-1zM110.18 314.20h1v1h-1zM116.09 314.20h1v1h-1zM122.00 314.20h1v1h-1zM127.91 314.20h1v1h-1zM133.82 314.20h1v1h-1zM139.73 314.20h1v1h-1zM145.64 314.20h1v1h-1zM151.55 314.20h1v1h-1zM157.46 314.20h1v1h-1zM163.37 314.20h1v1h-1zM169.28 314.20h1v1h-1zM175.19 314.20h1v1h-1zM181.10 314.20h1v1h-1zM187.01 314.20h1v1h-1zM192.92 314.20h1v1h-1zM198.83 314.20h1v1h-1zM204.74 314.20h1v1h-1zM210.65 314.20h1v1h-1zM216.56 314.20h1v1h-1zM222.47 314.20h1v1h-1zM228.38 314.20h1v1h-1zM234.29 314.20h1v1h-1zM240.20 314.20h1v1h-1zM246.11 314.20h1v1h-1zM252.02 314.20h1v1h-1zM257.93 314.20h1v1h-1zM263.84 314.20h1v1h-1zM269.75 314.20h1v1h-1zM275.66 314.20h1v1h-1zM281.57 314.20h1v1h-1zM287.48 314.20h1v1h-1zM293.39 314.20h1v1h-1zM299.30 314.20h1v1h-1zM305.21 314.20h1v1h-1zM311.12 314.20h1v1h-1zM317.03 314.20h1v1h-1zM322.94 314.20h1v1h-1zM328.85 314.20h1v1h-1zM334.76 314.20h1v1h-1zM340.67 314.20h1v1h-1zM346.58 314.20h1v1h-1zM352.49 314.20h1v1h-1zM358.40 314.20h1v1h-1zM364.31 314.20h1v1h-1zM370.22 314.20h1v1h-1zM376.13 314.20h1v1h-1zM382.04 314.20h1v1h-1zM387.95 314.20h1v1h-1zM393.86 314.20h1v1h-1zM399.77 314.20h1v1h-1zM405.68 314.20h1v1h-1zM411.59 314.20h1v1h-1zM417.50 314.20h1v1h-1zM423.41 314.20h1v1h-1zM429.32 314.20h1v1h-1zM435.23 314.20h1v1h-1zM441.14 314.20h1v1h-1zM447.05 314.20h1v1h-1zM452.96 314.20h1v1h-1zM458.87 314.20h1v1h-1zM464.78 314.20h1v1h-1zM470.69 314.20h1v1h-1zM476.60 314.20h1v1h-1zM482.51 314.20h1v1h-1zM488.42 314.20h1v1h-1zM494.33 314.20h1v1h-1zM500.24 314.20h1v1h-1zM506.15 314.20h1v1h-1zM512.06 314.20h1v1h-1zM517.97 314.20h1v1h-1zM523.88 314.20h1v1h-1zM529.79 314.20h1v1h-1zM535.70 314.20h1v1h-1zM541.61 314.20h1v1h-1zM547.52 314.20h1v1h-1zM553.43 314.20h1v1h-1zM559.34 314.20h1v1h-1zM565.25 314.20h1v1h-1zM571.16 314.20h1v1h-1zM577.07 314.20h1v1h-1zM582.98 314.20h1v1h-1zM588.89 314.20h1v1h-1zM594.80 314.20h1v1h-1zM600.71 314.20h1v1h-1zM606.62 314.20h1v1h-1zM612.53 314.20h1v1h-1zM618.44 314.20h1v1h-1zM624.35 314.20h1v1h-1zM630.26 314.20h1v1h-1zM636.17 314.20h1v1h-1zM642.08 314.20h1v1h-1zM647.99 314.20h1v1h-1zM68.81 268.00h1v1h-1zM74.72 268.00h1v1h-1zM80.63 268.00h1v1h-1zM86.54 268.00h1v1h-1zM92.45 268.00h1v1h-1zM98.36 268.00h1v1h-1zM104.27 268.00h1v1h-1zM110.18 268.00h1v1h-1zM116.09 268.00h1v1h-1zM122.00 268.00h1v1h-1zM127.91 268.00h1v1h-1zM133.82 268.00h1v1h-1zM139.73 268.00h1v1h-1zM145.64 268.00h1v1h-1zM151.55 268.00h1v1h-1zM157.46 268.00h1v1h-1zM163.37 268.00h1v1h-1zM169.28 268.00h1v1h-1zM175.19 268.00h1v1h-1zM181.10 268.00h1v1h-1zM187.01 268.00h1v1h-1zM192.92 268.00h1v1h-1zM198.83 268.00h1v1h-1zM204.74 268.00h1v1h-1zM210.65 268.00h1v1h-1zM216.56 268.00h1v1h-1zM222.47 268.00h1v1h-1zM228.38 268.00h1v1h-1zM234.29 268.00h1v1h-1zM240.20 268.00h1v1h-1zM246.11 268.00h1v1h-1zM252.02 268.00h1v1h-1zM257.93 268.00h1v1h-1zM263.84 268.00h1v1h-1zM269.75 268.00h1v1h-1zM275.66 268.00h1v1h-1zM281.57 268.00h1v1h-1zM287.48 268.00h1v1h-1zM293.39 268.00h1v1h-1zM299.30 268.00h1v1h-1zM305.21 268.00h1v1h-1zM311.12 268.00h1v1h-1zM317.03 268.00h1v1h-1zM322.94 268.00h1v1h-1zM328.85 268.00h1v1h-1zM334.76 268.00h1v1h-1zM340.67 268.00h1v1h-1zM346.58 268.00h1v1h-1zM352.49 268.00h1v1h-1zM358.40 268.00h1v1h-1zM364.31 268.00h1v1h-1zM370.22 268.00h1v1h-1zM376.13 268.00h1v1h-1zM382.04 268.00h1v1h-1zM387.95 268.00h1v1h-1zM393.86 268.00h1v1h-1zM399.77 268.00h1v1h-1zM405.68 268.00h1v1h-1zM411.59 268.00h1v1h-1zM417.50 268.00h1v1h-1zM423.41 268.00h1v1h-1zM429.32 268.00h1v1h-1zM435.23 268.00h1v1h-1zM441.14 268.00h1v1h-1zM447.05 268.00h1v1h-1zM452.96 268.00h1v1h-1zM458.87 268.00h1v1h-1zM464.78 268.00h1v1h-1zM470.69 268.00h1v1h-1zM476.60 268.00h1v1h-1zM482.51 268.00h1v1h-1zM488.42 268.00h1v1h-1zM494.33 268.00h1v1h-1zM500.24 268.00h1v1h-1zM506.15 268.00h1v1h-1zM512.06 268.00h1v1h-1zM517.97 268.00h1v1h-1zM523.88 268.00h1v1h-1zM529.79 268.00h1v1h-1zM535.70 268.00h1v1h-1zM541.61 268.00h1v1h-1zM547.52 268.00h1v1h-1zM553.43 268.00h1v1h-1zM559.34 268.00h1v1h-1zM565.25 268.00h1v1h-1zM571.16 268.00h1v1h-1zM577.07 268.00h1v1h-1zM582.98 268.00h1v1h-1zM588.89 268.00h1v1h-1zM594.80 268.00h1v1h-1zM600.71 268.00h1v1h-1zM606.62 268.00h1v1h-1zM612.53 268.00h1v1h-1zM618.44 268.00h1v1h-1zM624.35 268.00h1v1h-1zM630.26 268.00h1v1h-1zM636.17 268.00h1v1h-1zM642.08 268.00h1v1h-1zM647.99 268.00h1v1h-1zM68.81 221.80h1v1h-1zM74.72 221.80h1v1h-1zM80.63 221.80h1v1h-1zM86.54 221.80h1v1h-1zM92.45 221.80h1v1h-1zM98.36 221.80h1v1h-1zM104.27 221.80h1v1h-1zM110.18 221.80h1v1h-1zM116.09 221.80h1v1h-1zM122.00 221.80h1v1h-1zM127.91 221.80h1v1h-1zM133.82 221.80h1v1h-1zM139.73 221.80h1v1h-1zM145.64 221.80h1v1h-1zM151.55 221.80h1v1h-1zM157.46 221.80h1v1h-1zM163.37 221.80h1v1h-1zM169.28 221.80h1v1h-1zM175.19 221.80h1v1h-1zM181.10 221.80h1v1h-1zM187.01 221.80h1v1h-1zM192.92 221.80h1v1h-1zM198.83 221.80h1v1h-1zM204.74 221.80h1v1h-1zM210.65 221.80h1v1h-1zM216.56 221.80h1v1h-1zM222.47 221.80h1v1h-1zM228.38 221.80h1v1h-1zM234.29 221.80h1v1h-1zM240.20 221.80h1v1h-1zM246.11 221.80h1v1h-1zM252.02 221.80h1v1h-1zM257.93 221.80h1v1h-1zM263.84 221.80h1v1h-1zM269.75 221.80h1v1h-1zM275.66 221.80h1v1h-1zM281.57 221.80h1v1h-1zM287.48 221.80h1v1h-1zM293.39 221.80h1v1h-1zM299.30 221.80h1v1h-1zM305.21 221.80h1v1h-1zM311.12 221.80h1v1h-1zM317.03 221.80h1v1h-1zM322.94 221.80h1v1h-1zM328.85 221.80h1v1h-1zM334.76 221.80h1v1h-1zM340.67 221.80h1v1h-1zM346.58 221.80h1v1h-1zM352.49 221.80h1v1h-1zM358.40 221.80h1v1h-1zM364.31 221.80h1v1h-1zM370.22 221.80h1v1h-1zM376.13 221.80h1v1h-1zM382.04 221.80h1v1h-1zM387.95 221.80h1v1h-1zM393.86 221.80h1v1h-1zM399.77 221.80h1v1h-1zM405.68 221.80h1v1h-1zM411.59 221.80h1v1h-1zM417.50 221.80h1v1h-1zM423.41 221.80h1v1h-1zM429.32 221.80h1v1h-1zM435.23 221.80h1v1h-1zM441.14 221.80h1v1h-1zM447.05 221.80h1v1h-1zM452.96 221.80h1v1h-1zM458.87 221.80h1v1h-1zM464.78 221.80h1v1h-1zM470.69 221.80h1v1h-1zM476.60 221.80h1v1h-1zM482.51 221.80h1v1h-1zM488.42 221.80h1v1h-1zM494.33 221.80h1v1h-1zM500.24 221.80h1v1h-1zM506.15 221.80h1v1h-1zM512.06 221.80h1v1h-1zM517.97 221.80h1v1h-1zM523.88 221.80h1v1h-1zM529.79 221.80h1v1h-1zM535.70 221.80h1v1h-1zM541.61 221.80h1v1h-1zM547.52 221.80h1v1h-1zM553.43 221.80h1v1h-1zM559.34 221.80h1v1h-1zM565.25 221.80h1v1h-1zM571.16 221.80h1v1h-1zM577.07 221.80h1v1h-1zM582.98 221.80h1v1h-1zM588.89 221.80h1v1h-1zM594.80 221.80h1v1h-1zM600.71 221.80h1v1h-1zM606.62 221.80h1v1h-1zM612.53 221.80h1v1h-1zM618.44 221.80h1v1h-1zM624.35 221.80h1v1h-1zM630.26 221.80h1v1h-1zM636.17 221.80h1v1h-1zM642.08 221.80h1v1h-1zM647.99 221.80h1v1h-1zM68.81 175.60h1v1h-1zM74.72 175.60h1v1h-1zM80.63 175.60h1v1h-1zM86.54 175.60h1v1h-1zM92.45 175.60h1v1h-1zM98.36 175.60h1v1h-1zM104.27 175.60h1v1h-1zM110.18 175.60h1v1h-1zM116.09 175.60h1v1h-1zM122.00 175.60h1v1h-1zM127.91 175.60h1v1h-1zM133.82 175.60h1v1h-1zM139.73 175.60h1v1h-1zM145.64 175.60h1v1h-1zM151.55 175.60h1v1h-1zM157.46 175.60h1v1h-1zM163.37 175.60h1v1h-1zM169.28 175.60h1v1h-1zM175.19 175.60h1v1h-1zM181.10 175.60h1v1h-1zM187.01 175.60h1v1h-1zM192.92 175.60h1v1h-1zM198.83 175.60h1v1h-1zM204.74 175.60h1v1h-1zM210.65 175.60h1v1h-1zM216.56 175.60h1v1h-1zM222.47 175.60h1v1h-1zM228.38 175.60h1v1h-1zM234.29 175.60h1v1h-1zM240.20 175.60h1v1h-1zM246.11 175.60h1v1h-1zM252.02 175.60h1v1h-1zM257.93 175.60h1v1h-1zM263.84 175.60h1v1h-1zM269.75 175.60h1v1h-1zM275.66 175.60h1v1h-1zM281.57 175.60h1v1h-1zM287.48 175.60h1v1h-1zM293.39 175.60h1v1h-1zM299.30 175.60h1v1h-1zM305.21 175.60h1v1h-1zM311.12 175.60h1v1h-1zM317.03 175.60h1v1h-1zM322.94 175.60h1v1h-1zM328.85 175.60h1v1h-1zM334.76 175.60h1v1h-1zM340.67 175.60h1v1h-1zM346.58 175.60h1v1h-1zM352.49 175.60h1v1h-1zM358.40 175.60h1v1h-1zM364.31 175.60h1v1h-1zM370.22 175.60h1v1h-1zM376.13 175.60h1v1h-1zM382.04 175.60h1v1h-1zM387.95 175.60h1v1h-1zM393.86 175.60h1v1h-1zM399.77 175.60h1v1h-1zM405.68 175.60h1v1h-1zM411.59 175.60h1v1h-1zM417.50 175.60h1v1h-1zM423.41 175.60h1v1h-1zM429.32 175.60h1v1h-1zM435.23 175.60h1v1h-1zM441.14 175.60h1v1h-1zM447.05 175.60h1v1h-1zM452.96 175.60h1v1h-1zM458.87 175.60h1v1h-1zM464.78 175.60h1v1h-1zM470.69 175.60h1v1h-1zM476.60 175.60h1v1h-1zM482.51 175.60h1v1h-1zM488.42 175.60h1v1h-1zM494.33 175.60h1v1h-1zM500.24 175.60h1v1h-1zM506.15 175.60h1v1h-1zM512.06 175.60h1v1h-1zM517.97 175.60h1v1h-1zM523.88 175.60h1v1h-1zM529.79 175.60h1v1h-1zM535.70 175.60h1v1h-1zM541.61 175.60h1v1h-1zM547.52 175.60h1v1h-1zM553.43 175.60h1v1h-1zM559.34 175.60h1v1h-1zM565.25 175.60h1v1h-1zM571.16 175.60h1v1h-1zM577.07 175.60h1v1h-1zM582.98 175.60h1v1h-1zM588.89 175.60h1v1h-1zM594.80 175.60h1v1h-1zM600.71 175.60h1v1h-1zM606.62 175.60h1v1h-1zM612.53 175.60h1v1h-1zM618.44 175.60h1v1h-1zM624.35 175.60h1v1h-1zM630.26 175.60h1v1h-1zM636.17 175.60h1v1h-1zM642.08 175.60h1v1h-1zM647.99 175.60h1v1h-1zM68.81 129.40h1v1h-1zM74.72 129.40h1v1h-1zM80.63 129.40h1v1h-1zM86.54 129.40h1v1h-1zM92.45 129.40h1v1h-1zM98.36 129.40h1v1h-1zM104.27 129.40h1v1h-1zM110.18 129.40h1v1h-1zM116.09 129.40h1v1h-1zM122.00 129.40h1v1h-1zM127.91 129.40h1v1h-1zM133.82 129.40h1v1h-1zM139.73 129.40h1v1h-1zM145.64 129.40h1v1h-1zM151.55 129.40h1v1h-1zM157.46 129.40h1v1h-1zM163.37 129.40h1v1h-1zM169.28 129.40h1v1h-1zM175.19 129.40h1v1h-1zM181.10 129.40h1v1h-1zM187.01 129.40h1v1h-1zM192.92 129.40h1v1h-1zM198.83 129.40h1v1h-1zM204.74 129.40h1v1h-1zM210.65 129.40h1v1h-1zM216.56 129.40h1v1h-1zM222.47 129.40h1v1h-1zM228.38 129.40h1v1h-1zM234.29 129.40h1v1h-1zM240.20 129.40h1v1h-1zM246.11 129.40h1v1h-1zM252.02 129.40h1v1h-1zM257.93 129.40h1v1h-1zM263.84 129.40h1v1h-1zM269.75 129.40h1v1h-1zM275.66 129.40h1v1h-1zM281.57 129.40h1v1h-1zM287.48 129.40h1v1h-1zM293.39 129.40h1v1h-1zM299.30 129.40h1v1h-1zM305.21 129.40h1v1h-1zM311.12 129.40h1v1h-1zM317.03 129.40h1v1h-1zM322.94 129.40h1v1h-1zM328.85 129.40h1v1h-1zM334.76 129.40h1v1h-1zM340.67 129.40h1v1h-1zM346.58 129.40h1v1h-1zM352.49 129.40h1v1h-1zM358.40 129.40h1v1h-1zM364.31 129.40h1v1h-1zM370.22 129.40h1v1h-1zM376.13 129.40h1v1h-1zM382.04 129.40h1v1h-1zM387.95 129.40h1v1h-1zM393.86 129.40h1v1h-1zM399.77 129.40h1v1h-1zM405.68 129.40h1v1h-1zM411.59 129.40h1v1h-1zM417.50 129.40h1v1h-1zM423.41 129.40h1v1h-1zM429.32 129.40h1v1h-1zM435.23 129.40h1v1h-1zM441.14 129.40h1v1h-1zM447.05 129.40h1v1h-1zM452.96 129.40h1v1h-1zM458.87 129.40h1v1h-1zM464.78 129.40h1v1h-1zM470.69 129.40h1v1h-1zM476.60 129.40h1v1h-1zM482.51 129.40h1v1h-1zM488.42 129.40h1v1h-1zM494.33 129.40h1v1h-1zM500.24 129.40h1v1h-1zM506.15 129.40h1v1h-1zM512.06 129.40h1v1h-1zM517.97 129.40h1v1h-1zM523.88 129.40h1v1h-1zM529.79 129.40h1v1h-1zM535.70 129.40h1v1h-1zM541.61 129.40h1v1h-1zM547.52 129.40h1v1h-1zM553.43 129.40h1v1h-1zM559.34 129.40h1v1h-1zM565.25 129.40h1v1h-1zM571.16 129.40h1v1h-1zM577.07 129.40h1v1h-1zM582.98 129.40h1v1h-1zM588.89 129.40h1v1h-1zM594.80 129.40h1v1h-1zM600.71 129.40h1v1h-1zM606.62 129.40h1v1h-1zM612.53 129.40h1v1h-1zM618.44 129.40h1v1h-1zM624.35 129.40h1v1h-1zM630.26 129.40h1v1h-1zM636.17 129.40h1v1h-1zM642.08 129.40h1v1h-1zM647.99 129.40h1v1h-1zM68.81 83.20h1v1h-1zM74.72 83.20h1v1h-1zM80.63 83.20h1v1h-1zM86.54 83.20h1v1h-1zM92.45 83.20h1v1h-1zM98.36 83.20h1v1h-1zM104.27 83.20h1v1h-1zM110.18 83.20h1v1h-1zM116.09 83.20h1v1h-1zM122.00 83.20h1v1h-1zM127.91 83.20h1v1h-1zM133.82 83.20h1v1h-1zM139.73 83.20h1v1h-1zM145.64 83.20h1v1h-1zM151.55 83.20h1v1h-1zM157.46 83.20h1v1h-1zM163.37 83.20h1v1h-1zM169.28 83.20h1v1h-1zM175.19 83.20h1v1h-1zM181.10 83.20h1v1h-1zM187.01 83.20h1v1h-1zM192.92 83.20h1v1h-1zM198.83 83.20h1v1h-1zM204.74 83.20h1v1h-1zM210.65 83.20h1v1h-1zM216.56 83.20h1v1h-1zM222.47 83.20h1v1h-1zM228.38 83.20h1v1h-1zM234.29 83.20h1v1h-1zM240.20 83.20h1v1h-1zM246.11 83.20h1v1h-1zM252.02 83.20h1v1h-1zM257.93 83.20h1v1h-1zM263.84 83.20h1v1h-1zM269.75 83.20h1v1h-1zM275.66 83.20h1v1h-1zM281.57 83.20h1v1h-1zM287.48 83.20h1v1h-1zM293.39 83.20h1v1h-1zM299.30 83.20h1v1h-1zM305.21 83.20h1v1h-1zM311.12 83.20h1v1h-1zM317.03 83.20h1v1h-1zM322.94 83.20h1v1h-1zM328.85 83.20h1v1h-1zM334.76 83.20h1v1h-1zM340.67 83.20h1v1h-1zM346.58 83.20h1v1h-1zM352.49 83.20h1v1h-1zM358.40 83.20h1v1h-1zM364.31 83.20h1v1h-1zM370.22 83.20h1v1h-1zM376.13 83.20h1v1h-1zM382.04 83.20h1v1h-1zM387.95 83.20h1v1h-1zM393.86 83.20h1v1h-1zM399.77 83.20h1v1h-1zM405.68 83.20h1v1h-1zM411.59 83.20h1v1h-1zM417.50 83.20h1v1h-1zM423.41 83.20h1v1h-1zM429.32 83.20h1v1h-1zM435.23 83.20h1v1h-1zM441.14 83.20h1v1h-1zM447.05 83.20h1v1h-1zM452.96 83.20h1v1h-1zM458.87 83.20h1v1h-1zM464.78 83.20h1v1h-1zM470.69 83.20h1v1h-1zM476.60 83.20h1v1h-1zM482.51 83.20h1v1h-1zM488.42 83.20h1v1h-1zM494.33 83.20h1v1h-1zM500.24 83.20h1v1h-1zM506.15 83.20h1v1h-1zM512.06 83.20h1v1h-1zM517.97 83.20h1v1h-1zM523.88 83.20h1v1h-1zM529.79 83.20h1v1h-1zM535.70 83.20h1v1h-1zM541.61 83.20h1v1h-1zM547.52 83.20h1v1h-1zM553.43 83.20h1v1h-1zM559.34 83.20h1v1h-1zM565.25 83.20h1v1h-1zM571.16 83.20h1v1h-1zM577.07 83.20h1v1h-1zM582.98 83.20h1v1h-1zM588.89 83.20h1v1h-1zM594.80 83.20h1v1h-1zM600.71 83.20h1v1h-1zM606.62 83.20h1v1h-1zM612.53 83.20h1v1h-1zM618.44 83.20h1v1h-1zM624.35 83.20h1v1h-1zM630.26 83.20h1v1h-1zM636.17 83.20h1v1h-1zM642.08 83.20h1v1h-1zM647.99 83.20h1v1h-1z" fill="#6a6a6a"/>
<line x1="63.0" y1="37.5" x2="63.0" y2="500.0" stroke="#222" stroke-width="1"/>
<line x1="63.0" y1="499.5" x2="650.5" y2="499.5" stroke="#2b2b2b" stroke-width="1"/>
<line x1="63.0" y1="37.5" x2="651.0" y2="37.5" stroke="#2b2b2b" stroke-width="1"/>
<line x1="650.5" y1="37.5" x2="650.5" y2="500.0" stroke="#2b2b2b" stroke-width="1"/>
<path d="M121.75,500.0v-6.5M121.75,37.0v6.5M180.5,500.0v-6.5M180.5,37.0v6.5M239.25,500.0v-6.5M239.25,37.0v6.5M298.0,500.0v-6.5M298.0,37.0v6.5M356.75,500.0v-6.5M356.75,37.0v6.5M415.5,500.0v-6.5M415.5,37.0v6.5M474.25,500.0v-6.5M474.25,37.0v6.5M533.0,500.0v-6.5M533.0,37.0v6.5M591.75,500.0v-6.5M591.75,37.0v6.5M63.0,453.3h6M651.0,453.3h-6.5M63.0,407.1h6M651.0,407.1h-6.5M63.0,360.9h6M651.0,360.9h-6.5M63.0,314.7h6M651.0,314.7h-6.5M63.0,268.5h6M651.0,268.5h-6.5M63.0,222.3h6M651.0,222.3h-6.5M63.0,176.1h6M651.0,176.1h-6.5M63.0,129.9h6M651.0,129.9h-6.5M63.0,83.7h6M651.0,83.7h-6.5" stroke="#2b2b2b" stroke-width="1" fill="none"/>
<g clip-path="url(#clip)" fill="none" stroke="#4a4ac4" stroke-width="1.1" stroke-linejoin="round">
<path d="M60.42,37.50 L137.99,37.52 L144.19,37.65 L146.27,37.81 L148.02,38.05 L149.27,38.31 L150.36,38.64 L151.40,39.05 L152.36,39.55 L153.30,40.17 L154.21,40.90 L155.13,41.78 L156.03,42.77 L157.11,44.10 L158.23,45.66 L159.26,47.26 L160.20,48.89 L160.97,50.39 L161.67,51.96 L162.30,53.59 L162.89,55.36 L163.51,57.56 L164.14,60.25 L164.80,63.56 L165.49,67.42 L166.79,75.88 L168.09,86.11 L169.36,97.68 L170.60,110.78 L171.86,125.75 L173.01,141.27 L175.16,174.34 L177.31,212.67 L180.03,266.02 L182.50,318.76 L184.09,349.37 L185.35,372.08 L186.61,393.15 L188.75,426.51 L189.79,440.61 L191.24,457.63 L191.91,464.09 L192.98,471.46 L194.64,480.80 L195.32,484.13 L195.97,486.97 L196.49,488.90 L197.04,490.67 L197.63,492.25 L198.24,493.59 L198.90,494.82 L199.60,495.86 L200.37,496.75 L201.19,497.50 L202.01,498.06 L202.92,498.52 L203.92,498.86 L205.03,499.12 L206.27,499.29 L207.76,499.40 L212.26,499.49 L650.13,499.50"/>
<path d="M62.58,37.50 L189.48,37.51 L197.35,37.59 L202.01,37.83 L204.82,38.22 L205.99,38.49 L207.05,38.82 L208.03,39.23 L208.95,39.72 L209.85,40.32 L210.73,41.01 L211.80,42.00 L212.96,43.22 L214.04,44.52 L215.13,45.95 L216.07,47.34 L216.94,48.80 L217.73,50.28 L218.45,51.84 L219.28,53.93 L220.08,56.38 L220.84,59.12 L221.63,62.45 L222.43,66.33 L223.24,70.68 L224.76,80.35 L226.30,92.06 L227.76,105.14 L229.17,119.66 L230.70,137.59 L231.89,152.91 L233.08,169.51 L235.12,201.28 L236.57,226.23 L241.31,314.55 L244.72,369.64 L246.18,391.47 L248.02,416.75 L249.13,430.71 L250.22,442.80 L251.99,460.34 L252.74,466.70 L254.02,475.31 L254.81,479.83 L255.57,483.66 L256.19,486.40 L256.77,488.59 L257.38,490.46 L258.03,492.07 L258.80,493.57 L259.68,494.93 L260.64,496.07 L261.66,497.01 L262.66,497.69 L263.75,498.25 L264.95,498.68 L266.27,499.00 L267.74,499.21 L269.50,499.36 L274.64,499.49 L648.36,499.50"/>
<path d="M62.98,37.50 L236.48,37.50 L246.17,37.57 L251.81,37.76 L255.33,38.08 L258.03,38.58 L259.20,38.92 L260.25,39.32 L261.26,39.80 L262.26,40.38 L263.48,41.23 L264.71,42.23 L266.01,43.42 L267.28,44.72 L268.40,46.01 L269.43,47.34 L270.40,48.73 L271.28,50.18 L272.49,52.46 L273.63,55.00 L274.63,57.62 L275.61,60.65 L276.64,64.39 L277.68,68.61 L278.68,73.19 L279.68,78.28 L280.66,83.74 L281.60,89.54 L283.49,102.72 L285.33,117.57 L287.26,135.38 L288.77,150.61 L290.34,167.78 L291.29,178.98 L292.60,195.82 L295.49,235.70 L302.46,336.15 L305.95,382.85 L307.30,399.05 L308.43,411.33 L309.94,425.81 L311.43,438.44 L312.90,449.32 L314.10,456.65 L315.81,465.62 L317.17,472.35 L318.18,476.92 L319.13,480.67 L319.97,483.50 L320.83,485.96 L321.73,488.17 L322.68,490.12 L323.70,491.87 L324.81,493.41 L326.01,494.76 L327.30,495.91 L328.68,496.86 L330.15,497.62 L331.76,498.23 L333.58,498.69 L335.58,499.02 L337.93,499.25 L340.75,499.39 L344.47,499.46 L649.25,499.50"/>
<path d="M62.80,37.50 L269.39,37.50 L281.40,37.53 L288.44,37.64 L293.14,37.82 L296.96,38.12 L300.21,38.55 L303.00,39.15 L305.44,39.92 L307.73,40.93 L310.04,42.26 L312.29,43.87 L314.13,45.44 L315.78,47.13 L317.32,48.98 L318.76,51.02 L320.21,53.42 L321.62,56.09 L322.98,59.04 L324.31,62.28 L325.63,65.90 L326.92,69.81 L328.21,74.12 L329.48,78.74 L330.80,84.02 L332.11,89.63 L333.36,95.41 L334.61,101.62 L335.95,108.75 L337.33,116.54 L340.25,134.61 L343.05,153.48 L345.92,174.49 L348.32,193.98 L351.26,219.19 L358.68,287.03 L361.40,310.98 L363.17,325.79 L366.02,348.44 L369.32,373.07 L371.71,389.58 L374.07,404.48 L376.63,419.18 L377.88,425.74 L379.17,432.02 L380.48,438.02 L381.83,443.71 L383.15,448.87 L384.34,453.03 L385.65,457.10 L387.23,461.47 L389.68,467.63 L391.62,472.22 L393.19,475.54 L394.82,478.65 L396.49,481.48 L398.17,484.00 L399.72,485.78 L401.31,487.37 L402.72,488.60 L405.28,490.61 L406.97,491.75 L408.78,492.80 L410.69,493.74 L412.71,494.58 L414.71,495.27 L416.85,495.89 L419.11,496.42 L421.55,496.89 L429.89,498.13 L433.35,498.49 L437.26,498.78 L443.16,499.06 L450.38,499.25 L459.52,499.38 L471.96,499.45 L649.87,499.50"/>
<path d="M63.29,37.50 L293.64,37.50 L308.35,37.55 L317.19,37.70 L323.12,37.95 L328.02,38.35 L332.28,38.93 L336.04,39.72 L337.83,40.21 L339.53,40.76 L341.17,41.39 L342.73,42.07 L344.26,42.83 L345.72,43.66 L347.16,44.58 L348.57,45.58 L350.45,47.10 L352.27,48.78 L354.03,50.62 L355.77,52.66 L357.47,54.89 L359.11,57.28 L360.76,59.91 L362.37,62.73 L363.99,65.80 L365.57,69.07 L367.16,72.59 L368.71,76.30 L370.27,80.26 L371.83,84.47 L373.38,88.94 L374.97,93.76 L377.96,103.55 L381.02,114.43 L384.16,126.51 L387.45,140.00 L390.71,154.11 L394.32,170.40 L409.44,241.43 L413.11,258.24 L416.46,273.12 L420.36,289.80 L424.12,305.04 L427.79,319.10 L431.43,332.19 L433.63,339.69 L435.84,346.87 L438.04,353.74 L440.24,360.29 L442.47,366.62 L444.70,372.63 L446.99,378.49 L449.28,384.05 L451.60,389.37 L453.98,394.53 L456.36,399.39 L458.80,404.08 L461.29,408.59 L463.82,412.88 L466.40,416.98 L469.01,420.87 L471.95,424.93 L474.98,428.80 L478.09,432.48 L481.26,435.93 L484.55,439.22 L487.92,442.33 L491.42,445.27 L495.03,448.05 L498.76,450.66 L502.60,453.11 L506.60,455.41 L510.77,457.59 L515.08,459.63 L519.58,461.54 L524.27,463.33 L529.15,464.99 L534.17,466.52 L539.42,467.95 L544.92,469.27 L550.67,470.50 L556.72,471.64 L563.06,472.70 L569.76,473.67 L576.80,474.57 L584.20,475.38 L592.04,476.13 L600.35,476.82 L609.16,477.44 L618.53,478.00 L628.48,478.51 L650.50,479.37"/>
<path d="M63.29,37.50 L305.68,37.50 L321.79,37.55 L331.66,37.69 L338.27,37.93 L343.79,38.31 L348.63,38.85 L352.95,39.57 L356.97,40.53 L360.73,41.72 L362.52,42.42 L364.25,43.18 L365.95,44.01 L367.60,44.91 L369.63,46.14 L371.62,47.50 L373.56,48.98 L375.47,50.59 L377.35,52.33 L379.20,54.20 L381.05,56.23 L382.87,58.40 L384.69,60.73 L386.48,63.19 L388.27,65.81 L390.09,68.64 L391.88,71.60 L393.70,74.77 L397.37,81.65 L400.69,88.43 L404.10,95.88 L407.65,104.15 L411.38,113.30 L415.05,122.70 L419.10,133.42 L436.42,180.72 L440.68,192.12 L444.56,202.26 L449.08,213.72 L453.39,224.24 L457.62,234.10 L461.79,243.38 L466.78,253.88 L471.75,263.65 L474.24,268.32 L476.77,272.87 L479.29,277.25 L481.82,281.47 L484.37,285.58 L486.95,289.56 L489.57,293.43 L492.18,297.15 L494.82,300.74 L497.53,304.26 L500.23,307.62 L502.99,310.90 L506.13,314.46 L509.33,317.89 L512.59,321.20 L515.91,324.38 L519.28,327.44 L522.72,330.38 L526.24,333.21 L529.82,335.92 L533.46,338.51 L537.19,340.99 L541.01,343.38 L544.92,345.66 L548.91,347.84 L553.02,349.94 L557.22,351.93 L561.50,353.82 L565.88,355.62 L570.40,357.34 L575.04,358.98 L579.83,360.53 L584.73,362.01 L589.78,363.41 L594.98,364.73 L600.35,365.98 L605.90,367.17 L611.63,368.28 L617.53,369.33 L623.66,370.32 L630.01,371.25 L636.58,372.12 L643.39,372.93 L650.50,373.69"/>
<path d="M63.29,37.50 L309.84,37.50 L326.52,37.54 L336.80,37.67 L343.70,37.87 L349.45,38.20 L354.50,38.66 L359.05,39.28 L363.28,40.10 L367.25,41.12 L370.98,42.35 L374.53,43.82 L376.64,44.85 L378.73,45.98 L380.75,47.20 L382.75,48.53 L384.72,49.96 L386.68,51.51 L388.62,53.18 L390.53,54.94 L392.47,56.87 L394.38,58.90 L396.29,61.05 L398.19,63.34 L402.04,68.34 L405.98,73.99 L409.44,79.37 L412.99,85.26 L416.69,91.75 L420.63,98.99 L424.44,106.30 L428.67,114.65 L446.61,151.11 L454.98,167.65 L459.62,176.47 L464.05,184.60 L468.37,192.22 L472.63,199.43 L477.68,207.56 L482.73,215.23 L487.78,222.43 L492.89,229.25 L498.02,235.65 L503.25,241.70 L508.57,247.40 L513.97,252.75 L517.08,255.64 L520.25,258.45 L523.45,261.15 L526.68,263.74 L529.97,266.25 L533.32,268.67 L536.72,271.01 L540.16,273.25 L543.68,275.42 L547.26,277.50 L550.90,279.50 L554.63,281.43 L558.42,283.28 L562.30,285.06 L566.26,286.77 L570.28,288.40 L574.39,289.96 L578.59,291.45 L582.91,292.89 L587.31,294.25 L591.84,295.56 L596.44,296.80 L601.20,297.98 L606.08,299.11 L611.07,300.18 L616.21,301.20 L626.95,303.09 L638.34,304.77 L650.50,306.28"/>
</g>
<path d="M63.0,499.5H650.5M63.0,37.5H650.5" stroke="#000" stroke-opacity="0.5" stroke-width="1"/>
<path d="M62.5,38 H298.0" stroke="#961c1c" stroke-width="2" fill="none"/>
<path d="M297.7,37 V499" stroke="#d81818" stroke-width="2.6" fill="none"/>
<path d="M296.4,499 H650.5" stroke="#d81818" stroke-width="2.3" fill="none"/>
<g font-family="Liberation Sans, sans-serif" font-size="13" fill="#000" style="will-change:transform"><text x="63.00" y="515" text-anchor="middle">0</text><text x="121.75" y="515" text-anchor="middle">100</text><text x="180.50" y="515" text-anchor="middle">200</text><text x="239.25" y="515" text-anchor="middle">300</text><text x="298.00" y="515" text-anchor="middle">400</text><text x="356.75" y="515" text-anchor="middle">500</text><text x="415.50" y="515" text-anchor="middle">600</text><text x="474.25" y="515" text-anchor="middle">700</text><text x="533.00" y="515" text-anchor="middle">800</text><text x="591.75" y="515" text-anchor="middle">900</text><text x="650.50" y="515" text-anchor="middle">1000</text><text x="59.3" y="504.40" text-anchor="end">0</text><text x="59.3" y="458.20" text-anchor="end">0.1</text><text x="59.3" y="412.00" text-anchor="end">0.2</text><text x="59.3" y="365.80" text-anchor="end">0.3</text><text x="59.3" y="319.60" text-anchor="end">0.4</text><text x="59.3" y="273.40" text-anchor="end">0.5</text><text x="59.3" y="227.20" text-anchor="end">0.6</text><text x="59.3" y="181.00" text-anchor="end">0.7</text><text x="59.3" y="134.80" text-anchor="end">0.8</text><text x="59.3" y="88.60" text-anchor="end">0.9</text><text x="59.3" y="42.40" text-anchor="end">1</text><text x="356.9" y="541.3" text-anchor="middle">Distance from the source r</text><text transform="translate(15.3,277.1) rotate(-90)">p<tspan font-size="10.4" dy="6.4">d</tspan></text><text x="466.4" y="150.4">Increasing threshold</text></g>
<rect x="52.96" y="41.35" width="2.32" height="1.3" fill="#fff"/><rect x="56.55" y="41.35" width="2.25" height="1.3" fill="#fff"/>
<rect x="111.79" y="513.95" width="2.32" height="1.3" fill="#fff"/><rect x="115.39" y="513.95" width="2.25" height="1.3" fill="#fff"/>
<rect x="636.93" y="513.95" width="2.32" height="1.3" fill="#fff"/><rect x="640.52" y="513.95" width="2.25" height="1.3" fill="#fff"/>
<line x1="495.5" y1="160.0" x2="190.56" y2="290.88" stroke="#000" stroke-width="1"/>
<path d="M184.0,293.7 L192.86,293.05 L190.56,290.88 L190.58,287.72 Z" fill="#000"/>
</svg></body></html>
